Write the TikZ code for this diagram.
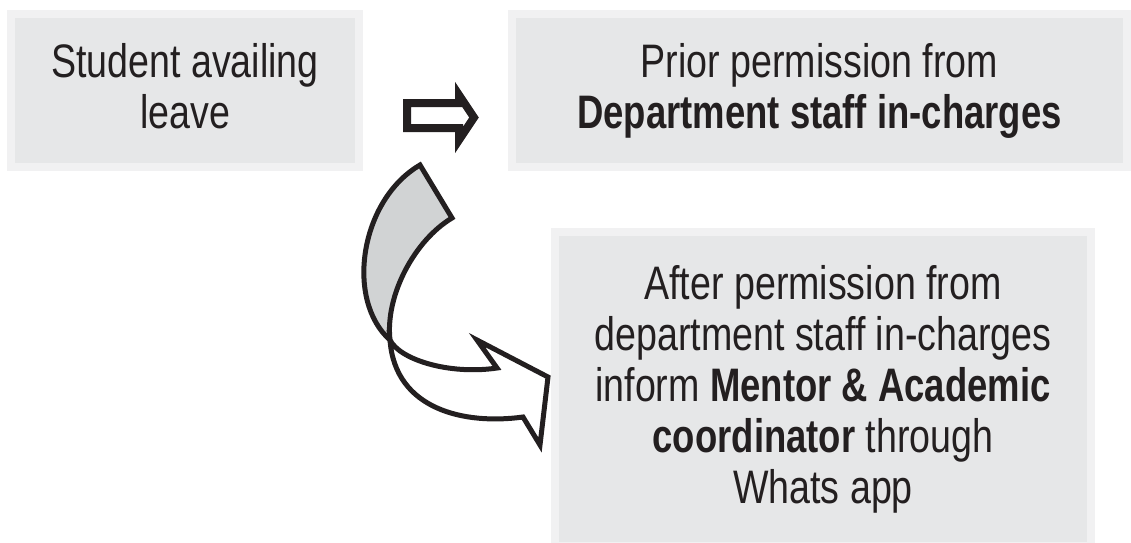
\documentclass[tikz,border=0pt]{standalone}
\usepackage{fontspec}
\setmainfont[FakeStretch=0.8, BoldFeatures={FakeStretch=0.776}]{Liberation Sans}
\usetikzlibrary{positioning}
\definecolor{rimgray}{HTML}{F1F1F2}
\definecolor{boxgray}{HTML}{E6E7E8}
\definecolor{bandgray}{HTML}{D1D3D4}
\definecolor{inkblack}{HTML}{231F20}

\begin{document}
\begin{tikzpicture}[
			x=1pt, y=-1pt,
			leavebox/.style={
				rectangle,
				draw=rimgray,
				line width=8pt,
				outer sep=0pt,
				fill=boxgray,
				minimum height=153pt,
				align=center,
				text=inkblack,
				font=\fontsize{47}{51}\selectfont
			},
			blockarrow/.style={draw=inkblack, line width=8pt, fill=white, line join=miter},
			ribbon/.style={draw=inkblack, line width=5pt, line join=miter}
			]
			\useasboundingbox (0,0) rectangle (1131,542);
			\node[leavebox, minimum width=348pt] (stud) at (185,90.5) {Student availing\\leave\vphantom{p}};
			\node[leavebox, minimum width=615pt, right=153pt of stud] (prior) {Prior permission from\\\textbf{Department staff in-charges}};
			\node[leavebox, minimum width=536pt, minimum height=314pt, below=65pt of prior, xshift=3.5pt] (inform) {After permission from\\department staff in-charges\\inform \textbf{Mentor \& Academic}\\\textbf{coordinator} through\\Whats app};
			
			% straight arrow between the top boxes
			\draw[blockarrow] (407,103) -- (459,103) -- (459,95) -- (474,117.5) -- (459,140) -- (459,128) -- (407,128) -- cycle;
			
			% curved ribbon arrow down to the lower box
			\draw[ribbon, fill=bandgray] (420,165) -- (452,218) .. controls (415,240) and (385,295) .. (390,340) .. controls (345,300) and (360,200) .. (420,165) -- cycle;
			\draw[ribbon, fill=white] (390,340) .. controls (400,360) and (450,375) .. (497,368) -- (477,340) -- (548,377) -- (540,445) -- (523,417) .. controls (465,425) and (395,410) .. (390,340) -- cycle;
		\end{tikzpicture}
\end{document}
